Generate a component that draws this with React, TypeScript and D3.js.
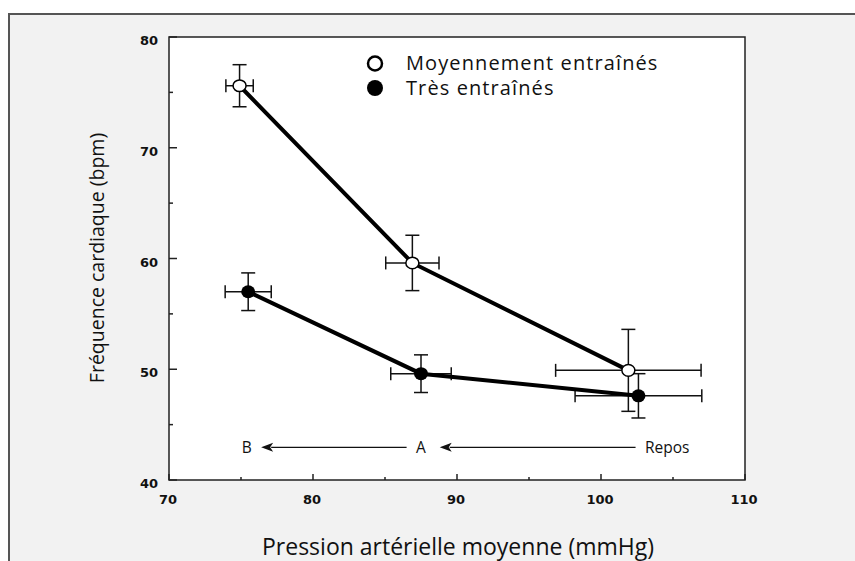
import React from "react";
import * as d3 from "d3";

const xTicks = [70, 80, 90, 100, 110];
const xMinorTicks = [75, 85, 95, 105];
const yTicks = [40, 50, 60, 70, 80];
const yMinorTicks = [45, 55, 65, 75];

const seriesNames = ["Moyennement entraînés", "Très entraînés"];

const moderatePressure = [74.9, 86.9, 101.9];
const moderateHR = [75.6, 59.6, 49.9];
const moderatePressureErr = [0.95, 1.85, 5.05];
const moderateHRErr = [1.9, 2.5, 3.7];

const trainedPressure = [75.5, 87.5, 102.6];
const trainedHR = [57.0, 49.6, 47.6];
const trainedPressureErr = [1.6, 2.1, 4.4];
const trainedHRErr = [1.7, 1.7, 2.0];

const phaseLabels = ["B", "A", "Repos"];
const phaseLabelX = [75.4, 87.5, 103.05];
const arrowStartX = [86.5, 102.4];
const arrowEndX = [76.4, 88.8];
const arrowY = 42.95;

const W = 855;
const H = 561;
const x = d3.scaleLinear().domain([70, 110]).range([169, 745]);
const y = d3.scaleLinear().domain([40, 80]).range([480, 37]);

const sansFont = "'Open Sans', 'Noto Sans', sans-serif";
const tickFont = "'DejaVu Sans', Verdana, sans-serif";

type Pt = { px: number; hr: number; pe: number; he: number };

function build(p: number[], h: number[], pe: number[], he: number[]): Pt[] {
  return p.map((v, i) => ({ px: v, hr: h[i], pe: pe[i], he: he[i] }));
}

const moderate = build(moderatePressure, moderateHR, moderatePressureErr, moderateHRErr);
const trained = build(trainedPressure, trainedHR, trainedPressureErr, trainedHRErr);

const line = d3
  .line<Pt>()
  .x((d) => x(d.px))
  .y((d) => y(d.hr));

function ErrorBars({ data }: { data: Pt[] }) {
  const cap = 7;
  return (
    <g stroke="#111" strokeWidth={1.5} fill="none">
      {data.map((d, i) => {
        const cx = x(d.px);
        const cy = y(d.hr);
        const x0 = x(d.px - d.pe);
        const x1 = x(d.px + d.pe);
        const y0 = y(d.hr + d.he);
        const y1 = y(d.hr - d.he);
        return (
          <g key={i}>
            <line x1={x0} x2={x1} y1={cy} y2={cy} />
            <line x1={x0} x2={x0} y1={cy - 6.5} y2={cy + 6.5} />
            <line x1={x1} x2={x1} y1={cy - 6.5} y2={cy + 6.5} />
            <line x1={cx} x2={cx} y1={y0} y2={y1} />
            <line x1={cx - cap} x2={cx + cap} y1={y0} y2={y0} />
            <line x1={cx - cap} x2={cx + cap} y1={y1} y2={y1} />
          </g>
        );
      })}
    </g>
  );
}

export default function App() {
  const ay = y(arrowY);
  return (
    <svg
      width={W}
      height={H}
      style={{ position: "absolute", left: 0, top: 0, display: "block" }}
    >
      <rect x={0} y={0} width={W} height={H} fill="#ffffff" />
      <rect x={9} y={14} width={W - 9} height={H - 14} fill="#f2f2f2" />
      <path d={`M9,${H} L9,14 L${W},14`} fill="none" stroke="#555" strokeWidth={2} />

      {/* plot area */}
      <rect
        x={x(70)}
        y={y(80)}
        width={x(110) - x(70)}
        height={y(40) - y(80)}
        fill="#ffffff"
        stroke="#222"
        strokeWidth={1.5}
      />

      {/* ticks */}
      <g stroke="#222" strokeWidth={1.5}>
        {xTicks.map((t) => (
          <line key={"xt" + t} x1={x(t)} x2={x(t)} y1={y(40)} y2={y(40) - 6} />
        ))}
        {xMinorTicks.map((t) => (
          <line key={"xm" + t} x1={x(t)} x2={x(t)} y1={y(40)} y2={y(40) - 3} />
        ))}
        {yTicks.map((t) => (
          <line key={"yt" + t} x1={x(70)} x2={x(70) + 8} y1={y(t)} y2={y(t)} />
        ))}
        {yMinorTicks.map((t) => (
          <line key={"ym" + t} x1={x(70)} x2={x(70) + 4} y1={y(t)} y2={y(t)} />
        ))}
      </g>
      <g fontFamily={tickFont} fontWeight="bold" fontSize={13} fill="#111">
        {xTicks.map((t) => (
          <text key={"xl" + t} x={x(t) - 1} y={504} textAnchor="middle">
            {t}
          </text>
        ))}
        {yTicks.map((t) => (
          <text key={"yl" + t} x={158} y={y(t) + 8} textAnchor="end">
            {t}
          </text>
        ))}
      </g>

      {/* axis titles */}
      <text
        x={458}
        y={555}
        textAnchor="middle"
        fontFamily={sansFont}
        fontSize={23}
        fill="#111"
      >
        Pression artérielle moyenne (mmHg)
      </text>
      <text
        transform="translate(104,258) rotate(-90)"
        textAnchor="middle"
        fontFamily={sansFont}
        fontSize={19.5}
        fill="#111"
      >
        Fréquence cardiaque (bpm)
      </text>

      {/* arrows */}
      <g stroke="#111" strokeWidth={1.3}>
        {arrowStartX.map((s, i) => (
          <line
            key={"ar" + i}
            x1={x(s)}
            x2={x(arrowEndX[i]) + 10}
            y1={ay}
            y2={ay}
          />
        ))}
      </g>
      {arrowEndX.map((e, i) => (
        <path
          key={"ah" + i}
          d={`M${x(e)},${ay} L${x(e) + 12},${ay - 4.5} L${x(e) + 9},${ay} L${x(e) + 12},${ay + 4.5} Z`}
          fill="#111"
        />
      ))}
      <g fontFamily={sansFont} fontSize={15.5} fill="#111">
        {phaseLabels.map((l, i) => (
          <text
            key={l}
            x={x(phaseLabelX[i])}
            y={ay + 5.5}
            textAnchor={i === 2 ? "start" : "middle"}
          >
            {l}
          </text>
        ))}
      </g>

      {/* error bars */}
      <ErrorBars data={moderate} />
      <ErrorBars data={trained} />

      {/* lines */}
      <path d={line(moderate) ?? ""} fill="none" stroke="#000" strokeWidth={4} />
      <path d={line(trained) ?? ""} fill="none" stroke="#000" strokeWidth={4} />

      {/* markers */}
      {moderate.map((d, i) => (
        <ellipse
          key={"mo" + i}
          cx={x(d.px)}
          cy={y(d.hr)}
          rx={6.5}
          ry={5.8}
          fill="#fff"
          stroke="#000"
          strokeWidth={1.5}
        />
      ))}
      {trained.map((d, i) => (
        <ellipse
          key={"tr" + i}
          cx={x(d.px)}
          cy={y(d.hr)}
          rx={7}
          ry={6.5}
          fill="#000"
        />
      ))}

      {/* legend */}
      <circle cx={375} cy={63.5} r={7} fill="#fff" stroke="#000" strokeWidth={2.5} />
      <circle cx={375} cy={88} r={8} fill="#000" />
      <g fontFamily={sansFont} fontSize={20} letterSpacing={1.1} fill="#111">
        <text x={406} y={69.5}>
          {seriesNames[0]}
        </text>
        <text x={406} y={94.5}>
          {seriesNames[1]}
        </text>
      </g>
    </svg>
  );
}
